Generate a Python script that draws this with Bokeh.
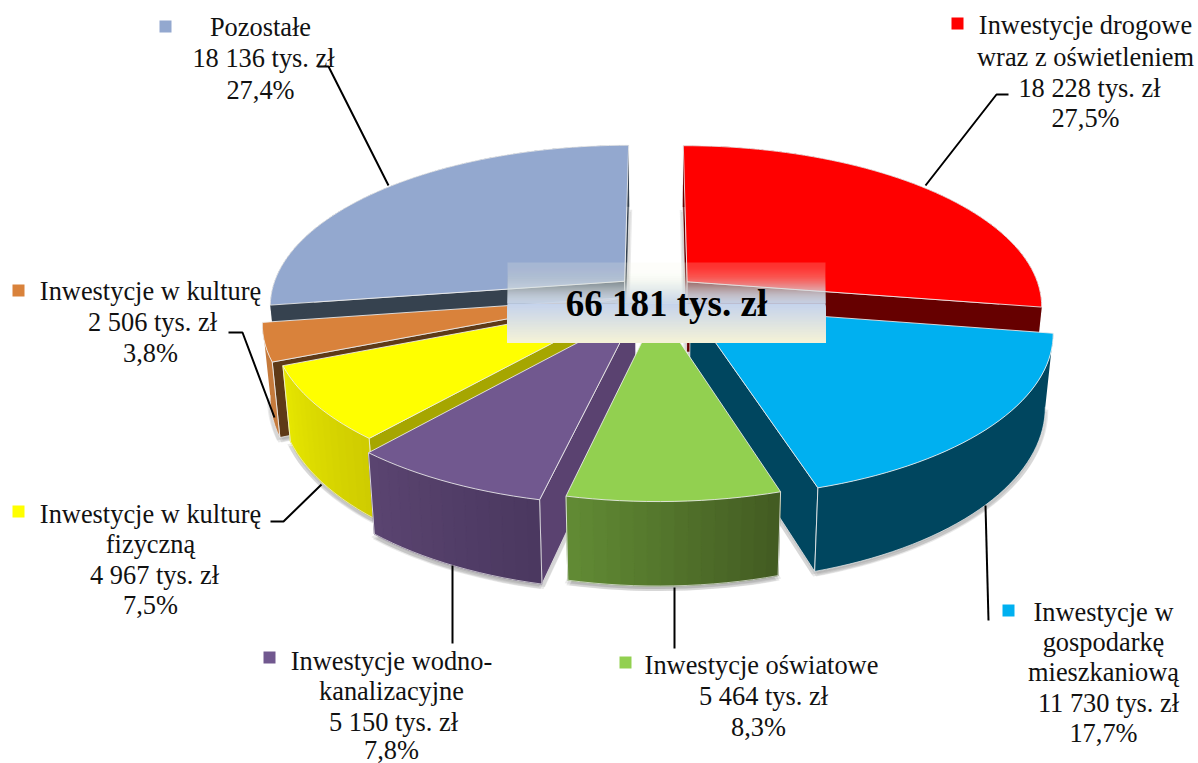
import numpy as np
from bokeh.plotting import figure
from bokeh.models import Range1d
from bokeh.core.properties import value
from bokeh.embed import file_html
from bokeh.resources import INLINE

# ---- data ----
categories = ["Inwestycje drogowe wraz z oświetleniem", "Inwestycje w gospodarkę mieszkaniową",
              "Inwestycje oświatowe", "Inwestycje wodno-kanalizacyjne",
              "Inwestycje w kulturę fizyczną", "Inwestycje w kulturę", "Pozostałe"]
values_tys = [18228, 11730, 5464, 5150, 4967, 2506, 18136]
total_label = "66 181 tys. zł"

# ---- styles ----
top_col = ["#ff0000", "#00b0f0", "#92d050", "#71588f", "#ffff00", "#d9823b", "#93a8cf"]
radial_col = ["#660000", "#00465f", "#3f5a20", "#5a4270", "#a6a600", "#5e3a17", "#36424f"]
wall_a = ["#660000", "#00465f", "#618a34", "#5a4470", "#e6e600", "#c57a3c", "#36424f"]
wall_b = ["#660000", "#00465f", "#435c22", "#4b3860", "#cfcc00", "#c57a3c", "#36424f"]
explode = [0.115, 0.125, 0.10, 0.13, 0.08, 0.10, 0.12]
draw_order = [6, 0, 5, 1, 4, 3, 2]
edge = "#efefef"

# ---- projection ----
CX, CY, R, Q, K, H, C = 656.0, 293.0, 354.0, 159.0, 0.145, 71.0, 0.02

def proj(a, b, low=False):
    a = np.asarray(a, float); b = np.asarray(b, float)
    w = 1 + K * b
    x = CX + R * a / w
    y = CY - Q * b / w
    if low:
        y = y + H / w
        x = CX + (x - CX) * (1 - C)
    return x, y

def hexmix(c1, c2, t):
    p = [int(c1[i:i+2], 16) for i in (1, 3, 5)]
    q = [int(c2[i:i+2], 16) for i in (1, 3, 5)]
    return "#%02x%02x%02x" % tuple(int(round(u + (v - u) * t)) for u, v in zip(p, q))

p = figure(width=1198, height=763, x_range=Range1d(0, 1198), y_range=Range1d(763, 0),
           toolbar_location=None, output_backend="svg", min_border=0,
           background_fill_color="white", border_fill_color="white")
p.axis.visible = False
p.grid.visible = False
p.outline_line_color = None

fr = np.array(values_tys, float) / sum(values_tys)
ends = np.cumsum(fr) * 2 * np.pi
starts = np.concatenate([[0.0], ends[:-1]])

for i in draw_order:
    t0, t1 = starts[i], ends[i]
    tm = (t0 + t1) / 2
    ea, eb = explode[i] * np.sin(tm), explode[i] * np.cos(tm)
    th = np.linspace(t0, t1, max(8, int((t1 - t0) / 0.03)))
    a, b = np.sin(th) + ea, np.cos(th) + eb
    xt, yt = proj(a, b)
    xl, yl = proj(a, b, True)
    ax, ay = proj(ea, eb)
    axl, ayl = proj(ea, eb, True)
    # soft shadow
    for dx, dy in ((-3, 3), (3, 3), (-1.5, 5), (1.5, 5)):
        p.patch(np.r_[axl, xl] + dx, np.r_[ayl, yl] + dy, fill_color="#555555", fill_alpha=0.12, line_color=None)
    # radial faces, only those turned towards the viewer
    for k, sign in ((0, -1), (-1, 1)):
        cross = (xt[k] - ax) * (ayl - ay) - (yt[k] - ay) * (axl - ax)
        if cross * sign > 0:
            p.patch([ax, xt[k], xl[k], axl], [ay, yt[k], yl[k], ayl], fill_color=radial_col[i],
                    line_color=edge, line_width=1, line_alpha=0.75)
    # outer wall: base plus shaded strips
    n = len(th) - 1
    p.patch(np.r_[xt, xl[::-1]], np.r_[yt, yl[::-1]], fill_color=hexmix(wall_a[i], wall_b[i], 0.5), line_color=None)
    if wall_a[i] != wall_b[i]:
        for j in range(n):
            s = j / max(n - 1, 1)
            col = hexmix(wall_a[i], wall_b[i], 1 - s if xt[0] > xt[-1] else s)
            p.patch([xt[j], xt[j + 1], xl[j + 1], xl[j]], [yt[j], yt[j + 1], yl[j + 1], yl[j]],
                    fill_color=col, line_color=col, line_width=1)
    front = np.cos(th) < 0.05
    if front.any():
        p.line(xl[front], yl[front], line_color=edge, line_width=1, line_alpha=0.7)
    for k in (0, -1):
        if np.cos(th[k]) < -0.2:
            p.line([xt[k], xl[k]], [yt[k], yl[k]], line_color=edge, line_width=1, line_alpha=0.85)
    # top face
    p.patch(np.r_[ax, xt], np.r_[ay, yt], fill_color=top_col[i], line_color=edge, line_width=1, line_alpha=0.85)

# ---- leaders ----
leaders = [
    ([317, 328, 388], [66, 66, 185]),
    ([1008, 996, 925], [94, 94, 185]),
    ([985, 988], [505, 620]),
    ([674, 674], [587, 648]),
    ([452, 452], [565, 643]),
    ([270, 283, 321], [521, 521, 484]),
    ([228, 242, 274], [332, 332, 417]),
]
for xs, ys in leaders:
    p.line(xs, ys, line_color="black", line_width=2)

# ---- centre box with gradient ----
BX0, BX1, BY0, BYM, BY1 = 507, 825, 262, 303, 342
p.quad(left=BX0, right=BX1, top=BY0, bottom=BYM, fill_color="#f4f6e8", fill_alpha=0.2, line_color=None)
for y in range(BY0 + 1, BYM):
    t = (y - BY0) / (BYM - BY0)
    p.quad(left=BX0, right=BX1, top=y, bottom=BYM, fill_color=hexmix("#f4f6e8", "#c5d3ec", t),
           fill_alpha=0.008 + 0.2 * t ** 2, line_color=None)
p.quad(left=BX0, right=BX1, top=BYM, bottom=BY1, fill_color="#c5d3ec", line_color=None)
for y in range(BYM + 1, BY1):
    t = (y - BYM) / (BY1 - BYM)
    p.quad(left=BX0, right=BX1, top=y, bottom=BY1, fill_color=hexmix("#c5d3ec", "#f6f3d6", t), line_color=None)
p.text([666], [303], text=[total_label], text_font=value("Liberation Serif"), text_font_style="bold",
       text_font_size="37px", text_align="center", text_baseline="middle", text_color="black")

# ---- labels ----
labels = [
    ("Pozostałe", 260, 26), ("18 136 tys. zł", 263, 57), ("27,4%", 260, 89),
    ("Inwestycje drogowe", 1085, 24), ("wraz z oświetleniem", 1085, 56), ("18 228 tys. zł", 1089, 87), ("27,5%", 1085, 117),
    ("Inwestycje w", 1103, 611), ("gospodarkę", 1103, 641), ("mieszkaniową", 1103, 671), ("11 730 tys. zł", 1108, 702), ("17,7%", 1103, 732),
    ("Inwestycje oświatowe", 761, 664), ("5 464 tys. zł", 763, 695), ("8,3%", 758, 726),
    ("Inwestycje wodno-", 391, 660), ("kanalizacyjne", 391, 690), ("5 150 tys. zł", 393, 721), ("7,8%", 391, 749),
    ("Inwestycje w kulturę", 150, 513), ("fizyczną", 150, 543), ("4 967 tys. zł", 154, 574), ("7,5%", 150, 604),
    ("Inwestycje w kulturę", 150, 290), ("2 506 tys. zł", 152, 321), ("3,8%", 150, 352),
]
p.text([l[1] for l in labels], [l[2] for l in labels], text=[l[0] for l in labels],
       text_font=value("Liberation Serif"), text_font_size="26.4px", text_align="center",
       text_baseline="middle", text_color="#111111")

# ---- legend keys ----
keys = [(957, 23, 0), (1008, 610, 1), (625, 662, 2), (269, 657, 3), (18, 511, 4), (18, 290, 5), (165, 26, 6)]
p.quad(left=[k[0] - 6 for k in keys], right=[k[0] + 6 for k in keys],
       top=[k[1] - 6 for k in keys], bottom=[k[1] + 6 for k in keys],
       fill_color=[top_col[k[2]] for k in keys], line_color=None)

open("out.html", "w").write(file_html(p, INLINE))
